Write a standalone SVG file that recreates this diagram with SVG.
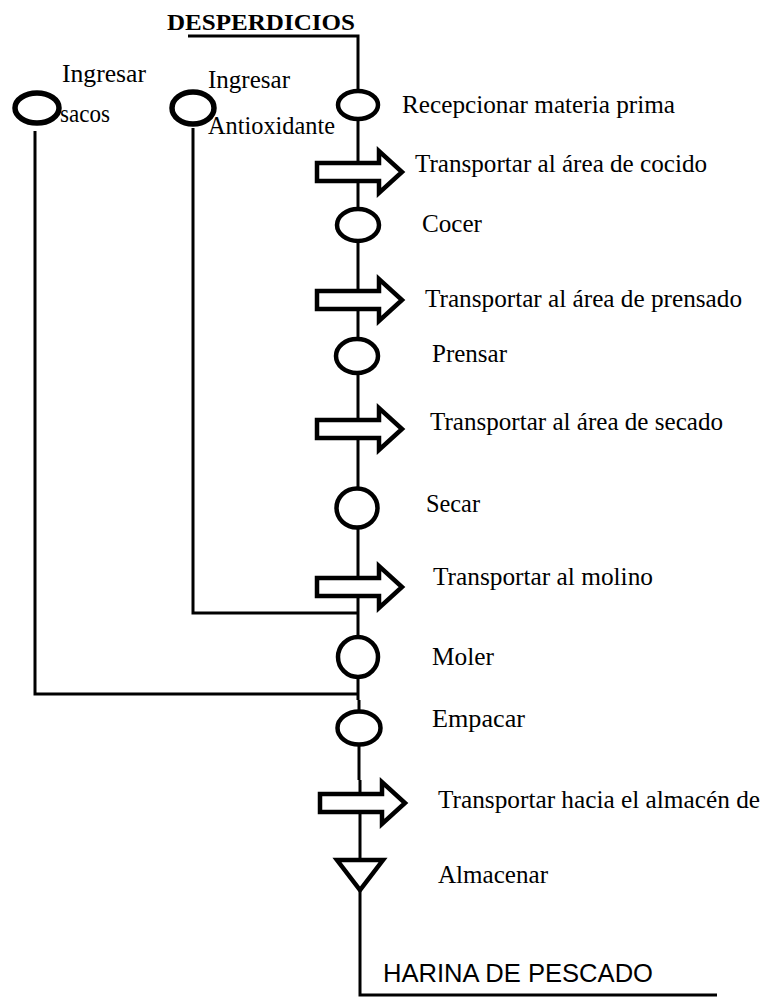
<svg xmlns="http://www.w3.org/2000/svg" xmlns:xlink="http://www.w3.org/1999/xlink" width="763" height="997" viewBox="0 0 763 997">
<style>
.ln{fill:none;stroke:#000;stroke-width:3}
.op{fill:#fff;stroke:#000;stroke-width:4.5}
.opl{fill:#fff;stroke:#000;stroke-width:5.5}
.tr{fill:#fff;stroke:#000;stroke-width:4.5;stroke-linejoin:miter}
.lb{font-family:"Liberation Serif","Times New Roman",serif;font-size:25px;fill:#000}
.hd{font-family:"Liberation Serif","Times New Roman",serif;font-size:24px;font-weight:bold;fill:#000}
.ft{font-family:"Liberation Sans",Arial,sans-serif;font-size:26px;fill:#000}
</style>
<defs>
<path id="arr" d="M0,-9 H62 V-21 L85,0 L62,21 V9 H0 Z"/>
</defs>
<rect width="763" height="997" fill="#fff"/>
<g id="connectors">
<path class="ln" d="M188,36 H358 V700"/>
<path class="ln" d="M359,700 V780"/>
<path class="ln" d="M360,780 V995 H717"/>
<path class="ln" d="M193,128 V613 H358"/>
<path class="ln" d="M35,131 V694 H358"/>
</g>
<g id="n-desperdicios"><text class="hd" x="167" y="30" textLength="188" lengthAdjust="spacingAndGlyphs">DESPERDICIOS</text></g>
<g id="n-sacos">
<ellipse class="opl" cx="37" cy="108" rx="22" ry="15"/>
<text class="lb" x="62" y="82" textLength="84" lengthAdjust="spacingAndGlyphs">Ingresar</text>
<text class="lb" x="60" y="122" textLength="50" lengthAdjust="spacingAndGlyphs">sacos</text>
</g>
<g id="n-antiox">
<ellipse class="opl" cx="193" cy="108" rx="21" ry="16"/>
<text class="lb" x="208" y="88" textLength="82" lengthAdjust="spacingAndGlyphs">Ingresar</text>
<text class="lb" x="208" y="134" textLength="127" lengthAdjust="spacingAndGlyphs">Antioxidante</text>
</g>
<g id="n-recepcionar">
<ellipse class="op" cx="358" cy="105" rx="20" ry="14"/>
<text class="lb" x="402" y="113" textLength="273" lengthAdjust="spacingAndGlyphs">Recepcionar materia prima</text>
</g>
<g id="n-t1">
<use xlink:href="#arr" href="#arr" class="tr" transform="translate(317,172)"/>
<text class="lb" x="415" y="172" textLength="292" lengthAdjust="spacingAndGlyphs">Transportar al área de cocido</text>
</g>
<g id="n-cocer">
<ellipse class="op" cx="358" cy="225" rx="21" ry="16"/>
<text class="lb" x="422" y="232" textLength="60" lengthAdjust="spacingAndGlyphs">Cocer</text>
</g>
<g id="n-t2">
<use xlink:href="#arr" href="#arr" class="tr" transform="translate(317,300)"/>
<text class="lb" x="425" y="307" textLength="317" lengthAdjust="spacingAndGlyphs">Transportar al área de prensado</text>
</g>
<g id="n-prensar">
<ellipse class="op" cx="357" cy="356" rx="21" ry="17"/>
<text class="lb" x="432" y="362" textLength="75" lengthAdjust="spacingAndGlyphs">Prensar</text>
</g>
<g id="n-t3">
<use xlink:href="#arr" href="#arr" class="tr" transform="translate(317,429)"/>
<text class="lb" x="430" y="430" textLength="293" lengthAdjust="spacingAndGlyphs">Transportar al área de secado</text>
</g>
<g id="n-secar">
<ellipse class="op" cx="357" cy="508" rx="20.5" ry="19.5"/>
<text class="lb" x="426" y="512" textLength="54" lengthAdjust="spacingAndGlyphs">Secar</text>
</g>
<g id="n-t4">
<use xlink:href="#arr" href="#arr" class="tr" transform="translate(317,587)"/>
<text class="lb" x="433" y="585" textLength="220" lengthAdjust="spacingAndGlyphs">Transportar al molino</text>
</g>
<g id="n-moler">
<ellipse class="op" cx="358" cy="657" rx="20" ry="20"/>
<text class="lb" x="432" y="665" textLength="62" lengthAdjust="spacingAndGlyphs">Moler</text>
</g>
<g id="n-empacar">
<ellipse class="op" cx="359" cy="728" rx="21.5" ry="16.5"/>
<text class="lb" x="432" y="727" textLength="93" lengthAdjust="spacingAndGlyphs">Empacar</text>
</g>
<g id="n-t5">
<use xlink:href="#arr" href="#arr" class="tr" transform="translate(320,803)"/>
<text class="lb" x="438" y="808" textLength="322" lengthAdjust="spacingAndGlyphs">Transportar hacia el almacén de</text>
</g>
<g id="n-almacenar">
<polygon class="tr" points="337,860 383,860 360,890"/>
<text class="lb" x="438" y="883" textLength="110" lengthAdjust="spacingAndGlyphs">Almacenar</text>
</g>
<g id="n-harina"><text class="ft" x="383" y="982" textLength="270" lengthAdjust="spacingAndGlyphs">HARINA DE PESCADO</text></g>
</svg>
